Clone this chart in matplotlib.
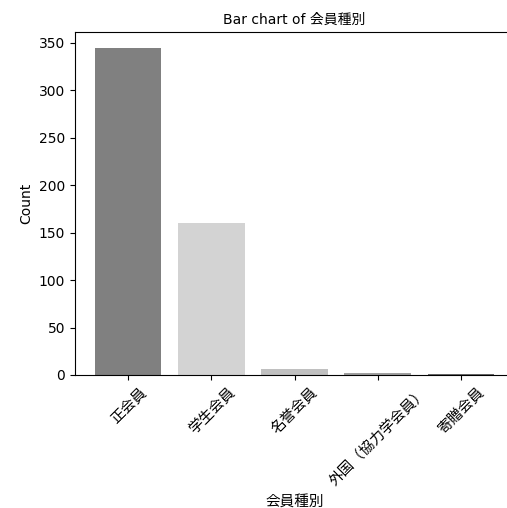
import matplotlib
matplotlib.use("Agg")
import matplotlib.pyplot as plt

plt.rcParams['font.family'] = ['DejaVu Sans', 'Noto Sans CJK JP']

categories = ['正会員', '学生会員', '名誉会員', '外国（協力学会員）', '寄贈会員']
counts = [344, 160, 6, 2, 1]
colors = ['#808080', '#d3d3d3', '#c0c0c0', '#a0a0a0', '#696969']

fig = plt.figure(figsize=(5.07, 5.08), dpi=100)
ax = fig.add_axes([75/507, 1-375/508, (514-75)/507, (375-32)/508])
ax.bar(categories, counts, color=colors, width=0.8)
ax.set_xlim(-0.64, 4.64)
ax.spines['right'].set_visible(False)
ax.set_title('Bar chart of 会員種別', fontsize=10)
ax.set_xlabel('会員種別', fontsize=10.5)
ax.set_ylabel('Count', fontsize=10)
ax.tick_params(axis='x', labelrotation=45, labelsize=10.5)
for lab in ax.get_xticklabels():
    lab.set_ha('center')
ax.set_yticks([0, 50, 100, 150, 200, 250, 300, 350])
fig.savefig('out.png', dpi=100)
